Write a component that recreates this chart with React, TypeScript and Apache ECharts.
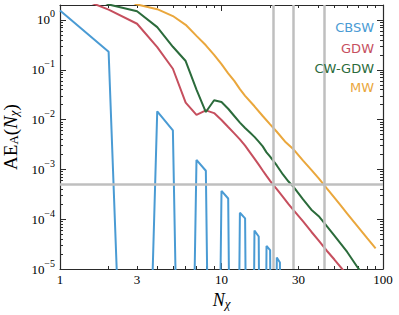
import React, { useEffect, useRef } from 'react';
import * as echarts from 'echarts';

// ---- data ----
const seriesNames = ['CBSW', 'GDW', 'CW-GDW', 'MW'];
const seriesColors = ['#4a9bd4', '#c64f5e', '#2b6b3b', '#eaa73c'];

const xTickLabels = [1, 3, 10, 30, 100];
const xMajorTicks = [1, 10, 100];
const yTickValues = [1e-5, 1e-4, 1e-3, 1e-2, 1e-1, 1];

const cbsw: [number, number][] = [
  [1, 1.55], [2, 0.23], [3, 1e-16], [4, 0.0147], [5, 0.0061], [6, 1e-16],
  [7, 1.55e-3], [8, 9.4e-4], [9, 1e-16], [10, 3.7e-4], [11, 2.6e-4], [12, 1e-16],
  [13, 1.35e-4], [14, 1.04e-4], [15, 1e-16], [16, 5.9e-5], [17, 4.5e-5], [18, 1e-16],
  [19, 2.9e-5], [20, 2.4e-5], [21, 1e-16], [22, 1.7e-5], [23, 1.35e-5], [24, 1e-16],
  [25, 9e-6], [26, 7e-6], [27, 1e-16],
];

const gdw: [number, number][] = [
  [1, 3.9], [2, 1.62], [3, 0.84], [4, 0.285], [5, 0.105], [6, 0.022], [7, 0.0124],
  [8, 0.0153], [9, 0.0135], [10, 0.0098], [11, 0.0071], [12, 0.0053], [13, 0.004],
  [14, 0.003], [15, 0.0022], [16, 0.00165], [17, 0.00125], [18, 0.00095], [19, 0.00074],
  [20, 0.00059], [21, 0.00048], [22, 0.0004], [24, 0.00028], [26, 0.0002], [28, 0.00015],
  [32, 9.0e-5], [36, 5.6e-5], [40, 3.7e-5], [45, 2.3e-5], [50, 1.55e-5], [55, 1.07e-5],
  [60, 7.5e-6], [70, 4.0e-6],
];

const cwgdw: [number, number][] = [
  [1, 6], [2, 2.05], [3, 1.5], [4, 0.72], [5, 0.29], [6, 0.15], [7, 0.04],
  [8, 0.0142], [9, 0.0245], [10, 0.0225], [11, 0.0165], [12, 0.0118], [13, 0.0087],
  [14, 0.0068], [15, 0.0055], [16, 0.0045], [17, 0.0036], [18, 0.0029], [19, 0.0022],
  [20, 0.0018], [22, 0.0012], [24, 0.00079], [26, 0.00057], [28, 0.00044], [32, 0.00025],
  [36, 0.000155], [40, 0.000115], [45, 7.2e-5], [50, 4.7e-5], [60, 2.2e-5], [70, 1.05e-5],
  [80, 6.0e-6],
];

const mw: [number, number][] = [
  [1, 8], [2, 3.6], [3, 2.05], [4, 1.65], [5, 1.2], [6, 0.8], [7, 0.48], [8, 0.31],
  [9, 0.2], [10, 0.13], [11, 0.085], [12, 0.06], [13, 0.041], [14, 0.03], [16, 0.0185],
  [18, 0.0118], [20, 0.008], [22, 0.0057], [25, 0.0035], [28, 0.0025], [32, 0.0015],
  [36, 0.00098], [40, 0.00066], [45, 0.00041], [50, 0.00027], [55, 0.000185], [60, 0.00013],
  [70, 7.0e-5], [80, 4.1e-5], [90, 2.6e-5],
];

const refLinesX = [21, 28, 43];
const refLineY = 5e-4;

const X_MIN = 1, X_MAX = 100, Y_MIN = 1e-5, Y_MAX = 2;

function minorTicks(lo: number, hi: number): number[] {
  const out: number[] = [];
  for (let e = Math.floor(Math.log10(lo)); e <= Math.ceil(Math.log10(hi)); e++) {
    for (let k = 2; k <= 9; k++) {
      const v = k * Math.pow(10, e);
      if (v > lo * 1.0001 && v < hi * 0.9999) out.push(v);
    }
  }
  return out;
}

export default function App() {
  const ref = useRef<HTMLDivElement>(null);
  useEffect(() => {
    if (!ref.current) return;
    const chart = echarts.init(ref.current, undefined, { renderer: 'svg' });
    const serif = "'Liberation Serif', 'DejaVu Serif', serif";
    const lineStyle = { color: '#2a2a2a', width: 1.2 };
    const xMinor = minorTicks(X_MIN, X_MAX);
    const yMinor = minorTicks(Y_MIN, Y_MAX);

    const xBase = (position: string, ticks: number[], len: number, showLine: boolean) => ({
      type: 'log', logBase: 10, min: X_MIN, max: X_MAX, position, gridIndex: 0,
      splitLine: { show: false },
      axisLine: { show: showLine, onZero: false, lineStyle },
      axisTick: { show: true, inside: true, length: len, customValues: ticks, lineStyle: { color: '#2a2a2a', width: 1 } },
      axisLabel: { show: false },
    });
    const yBase = (position: string, ticks: number[], len: number, showLine: boolean) => ({
      type: 'log', logBase: 10, min: Y_MIN, max: Y_MAX, position, gridIndex: 0,
      splitLine: { show: false },
      axisLine: { show: showLine, onZero: false, lineStyle },
      axisTick: { show: true, inside: true, length: len, customValues: ticks, lineStyle: { color: '#2a2a2a', width: 1 } },
      axisLabel: { show: false },
    });

    const xMain: any = xBase('bottom', xMajorTicks, 6, true);
    xMain.axisLabel = {
      show: true, customValues: xTickLabels, margin: 4,
      formatter: (v: number) => String(Math.round(v)),
      fontFamily: serif, fontSize: 13, color: '#000',
    };
    xMain.name = '{i|N}{is|χ}';
    xMain.nameLocation = 'middle';
    xMain.nameGap = 19;
    xMain.nameTextStyle = {
      color: '#000',
      rich: {
        i: { fontFamily: serif, fontStyle: 'italic', fontSize: 18, color: '#000' },
        is: { fontFamily: serif, fontStyle: 'italic', fontSize: 13, color: '#000', padding: [7, 0, 0, 0] },
      },
    };

    const yMain: any = yBase('left', yTickValues, 6, true);
    yMain.axisLabel = {
      show: true, customValues: yTickValues, margin: 5,
      formatter: (v: number) => {
        const e = Math.round(Math.log10(v));
        return `{b|10}{s|${e < 0 ? '−' + (-e) : e}}`;
      },
      rich: {
        b: { fontFamily: serif, fontSize: 13, color: '#000' },
        s: { fontFamily: serif, fontSize: 10, color: '#000', padding: [0, 0, 12, 0] },
      },
    };
    yMain.name = '{r|AE}{rs|A}{r|(}{i|N}{is|χ}{r|)}';
    yMain.nameLocation = 'middle';
    yMain.nameRotate = 90;
    yMain.nameGap = 36;
    yMain.nameTextStyle = {
      color: '#000',
      rich: {
        r: { fontFamily: serif, fontSize: 19, color: '#000' },
        rs: { fontFamily: serif, fontSize: 13, color: '#000', padding: [6, 0, 0, 0] },
        i: { fontFamily: serif, fontStyle: 'italic', fontSize: 19, color: '#000' },
        is: { fontFamily: serif, fontStyle: 'italic', fontSize: 13, color: '#000', padding: [6, 0, 0, 0] },
      },
    };

    const datasets = [cbsw, gdw, cwgdw, mw];
    const series: any[] = datasets.map((d, i) => ({
      type: 'line', name: seriesNames[i], data: d, xAxisIndex: 0, yAxisIndex: 0,
      showSymbol: false, symbol: 'none', clip: true, z: 3,
      lineStyle: { color: seriesColors[i], width: 2 }, itemStyle: { color: seriesColors[i] },
    }));
    series.unshift({
      type: 'line', name: 'ref', data: [], xAxisIndex: 0, yAxisIndex: 0, z: 1, silent: true,
      markLine: {
        silent: true, symbol: ['none', 'none'], label: { show: false },
        lineStyle: { color: '#bfbfbf', width: 2.5, type: 'solid' },
        emphasis: { disabled: true },
        data: [
          ...refLinesX.map((v) => ({ xAxis: v })),
          [{ coord: [X_MIN, refLineY] }, { coord: [X_MAX, refLineY] }],
        ],
      },
    });

    const legendY = [27, 48, 68, 87];
    chart.setOption({
      animation: false,
      backgroundColor: '#fff',
      grid: { left: 60, right: 16, top: 5, bottom: 46, containLabel: false, outerBoundsMode: 'none' },
      xAxis: [
        xMain,
        xBase('top', xMajorTicks, 6, true),
        xBase('bottom', xMinor, 3, false),
        xBase('top', xMinor, 3, false),
      ],
      yAxis: [
        yMain,
        yBase('right', yTickValues, 6, true),
        yBase('left', yMinor, 3, false),
        yBase('right', yMinor, 3, false),
      ],
      graphic: seriesNames.map((n, i) => ({
        type: 'text', x: 374, y: legendY[i], z: 10, silent: true,
        style: {
          text: n, fill: seriesColors[i], align: 'right', verticalAlign: 'middle',
          font: "13px 'DejaVu Sans', sans-serif",
        },
      })),
      series,
    });
    return () => chart.dispose();
  }, []);
  return (
    <div
      ref={ref}
      style={{ position: 'fixed', left: 0, top: 0, width: 399, height: 315, background: '#fff' }}
    />
  );
}
